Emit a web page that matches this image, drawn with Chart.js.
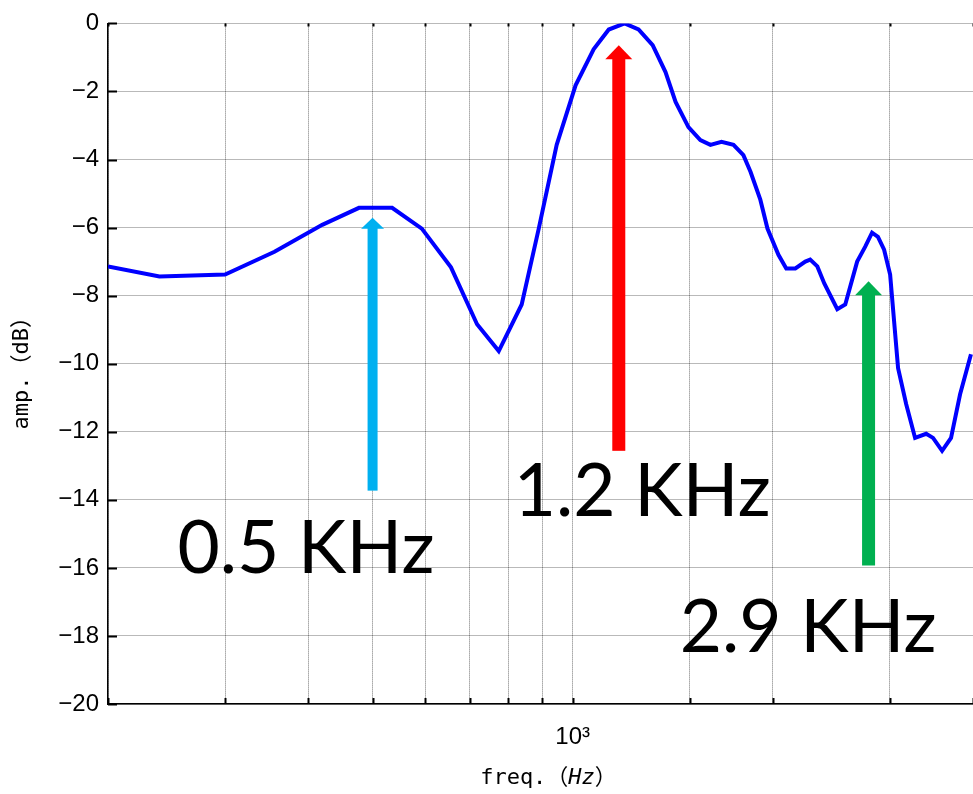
<!DOCTYPE html>
<html>
<head>
<meta charset="utf-8">
<script src="https://cdn.jsdelivr.net/npm/chart.js@4/dist/chart.umd.min.js"></script>
<style>
  body { margin: 0; background: #fff; }
  canvas { display: block; }
</style>
</head>
<body>
<canvas id="c" width="973" height="794"></canvas>
<script>
// frequency (Hz) and amplitude (dB)
var freqs = [200, 239, 300, 356, 420, 477, 535, 593, 656, 718, 774, 838, 889, 946,
  1010, 1075, 1133, 1197, 1256, 1319, 1379, 1428, 1493, 1556, 1611, 1674, 1745, 1806,
  1851, 1915, 1963, 2039, 2095, 2162, 2238, 2276, 2333, 2390, 2500, 2570, 2678, 2754,
  2820, 2878, 2940, 3002, 3086, 3174, 3273, 3401, 3483, 3594, 3707, 3825, 3972];
var amps = [-7.14, -7.44, -7.38, -6.71, -5.92, -5.42, -5.42, -6.03, -7.17, -8.84, -9.63, -8.26, -6.03, -3.57,
  -1.82, -0.76, -0.18, 0, -0.18, -0.64, -1.43, -2.31, -3.05, -3.43, -3.57, -3.48, -3.57, -3.87,
  -4.36, -5.18, -6.03, -6.8, -7.2, -7.2, -7.0, -6.94, -7.14, -7.64, -8.4, -8.26, -7.0, -6.56,
  -6.15, -6.27, -6.65, -7.38, -10.13, -11.19, -12.18, -12.06, -12.18, -12.56, -12.18, -10.9, -9.72];

var yTicks = [0, -2, -4, -6, -8, -10, -12, -14, -16, -18, -20];

// annotation arrows: frequency, start dB, tip dB
var arrowFreqs = [500, 1173, 2786];
var arrowFrom = [-13.73, -12.56, -15.93];
var arrowTo = [-5.71, -0.64, -7.58];
var arrowColors = ['#00B0F0', '#FF0000', '#00B050'];

// annotation labels: text, centre frequency, baseline dB
var labelTexts = ['0.5 KHz', '1.2 KHz', '2.9 KHz'];
var labelFreqs = [397, 1272, 2260];
var labelDb = [-16.16, -14.47, -18.48];

var tickFont = { family: '"Liberation Sans", Arial, sans-serif', size: 24 };

var decor = {
  id: 'decor',
  afterDraw: function (chart) {
    var ctx = chart.ctx, a = chart.chartArea;
    var xs = chart.scales.x, ys = chart.scales.y;
    ctx.save();
    // inward tick marks
    ctx.strokeStyle = '#000';
    ctx.lineWidth = 2;
    ctx.beginPath();
    ys.ticks.forEach(function (t) {
      var y = Math.round(ys.getPixelForValue(t.value)) + 0.5;
      ctx.moveTo(a.left, y);
      ctx.lineTo(a.left + 9, y);
    });
    xs.ticks.forEach(function (t) {
      var x = Math.round(xs.getPixelForValue(t.value)) + 0.5;
      ctx.moveTo(x, a.bottom);
      ctx.lineTo(x, a.bottom - 6);
      ctx.moveTo(x, a.top);
      ctx.lineTo(x, a.top + 3);
    });
    ctx.stroke();

    // arrows
    for (var i = 0; i < arrowFreqs.length; i++) {
      var x = xs.getPixelForValue(arrowFreqs[i]);
      var y0 = ys.getPixelForValue(arrowFrom[i]);
      var y1 = ys.getPixelForValue(arrowTo[i]);
      var shaft = i === 0 ? 10 : 13, head = i === 0 ? 23 : 27, hl = i === 0 ? 11 : 14;
      ctx.fillStyle = arrowColors[i];
      ctx.fillRect(x - shaft / 2, y1 + hl - 1, shaft, y0 - y1 - hl + 1);
      ctx.beginPath();
      ctx.moveTo(x, y1);
      ctx.lineTo(x + head / 2, y1 + hl);
      ctx.lineTo(x - head / 2, y1 + hl);
      ctx.closePath();
      ctx.fill();
    }

    // big labels
    ctx.fillStyle = '#000';
    ctx.font = '73px Lato, "Noto Sans", sans-serif';
    ctx.textAlign = 'center';
    ctx.textBaseline = 'alphabetic';
    for (var j = 0; j < labelTexts.length; j++) {
      ctx.fillText(labelTexts[j], xs.getPixelForValue(labelFreqs[j]), ys.getPixelForValue(labelDb[j]));
    }

    // x axis title with italic unit
    var mono = '"DejaVu Sans Mono", "Liberation Mono", monospace';
    var cjk = '"Noto Sans CJK JP", sans-serif';
    var parts = [['freq.', '22px ' + mono], ['（', '22px ' + cjk],
                 ['Hz', 'italic 22px ' + mono], ['）', '22px ' + cjk]];
    var w = 0;
    parts.forEach(function (p) { ctx.font = p[1]; w += ctx.measureText(p[0]).width; });
    var cx = (a.left + a.right) / 2 - w / 2 + 8;
    ctx.textAlign = 'left';
    parts.forEach(function (p) {
      ctx.font = p[1];
      ctx.fillText(p[0], cx, 784);
      cx += ctx.measureText(p[0]).width;
    });

    // y axis title
    var yparts = [['amp.', '22px ' + mono], ['（', '22px ' + cjk],
                  ['dB', '22px ' + mono], ['）', '22px ' + cjk]];
    w = 0;
    yparts.forEach(function (p) { ctx.font = p[1]; w += ctx.measureText(p[0]).width; });
    ctx.translate(28, (a.top + a.bottom) / 2 + 4);
    ctx.rotate(-Math.PI / 2);
    var cy = -w / 2;
    yparts.forEach(function (p) {
      ctx.font = p[1];
      ctx.fillText(p[0], cy, 0);
      cy += ctx.measureText(p[0]).width;
    });
    ctx.restore();
  }
};

new Chart(document.getElementById('c'), {
  type: 'line',
  data: {
    datasets: [{
      data: freqs.map(function (f, i) { return { x: f, y: amps[i] }; }),
      borderColor: '#0000FF',
      borderWidth: 4,
      pointRadius: 0,
      tension: 0,
      fill: false
    }]
  },
  options: {
    responsive: false,
    animation: false,
    layout: { padding: { top: 21, right: 0, left: 0, bottom: 0 } },
    plugins: { legend: { display: false }, tooltip: { enabled: false } },
    scales: {
      x: {
        type: 'logarithmic',
        min: 200,
        max: 4000,
        afterFit: function (s) { s.height = 90; s.paddingLeft = 0; s.paddingRight = 0; },
        grid: { color: 'rgba(0,0,0,0.55)', lineWidth: 1, drawTicks: false },
        border: { display: true, color: '#000', width: 1.5, dash: [1, 1] },
        ticks: {
          autoSkip: false,
          maxRotation: 0,
          padding: 19,
          color: '#000',
          font: tickFont,
          callback: function (v) { return v === 1000 ? '10³' : ''; }
        }
      },
      y: {
        min: -20,
        max: 0,
        afterFit: function (s) { s.width = 108; },
        afterBuildTicks: function (s) { s.ticks = yTicks.map(function (v) { return { value: v }; }); },
        grid: { color: 'rgba(0,0,0,0.55)', lineWidth: 1, drawTicks: false },
        border: { display: true, color: '#000', width: 1.5, dash: [1, 1] },
        ticks: {
          padding: 9,
          color: '#000',
          font: tickFont,
          callback: function (v) { return v === 0 ? '0' : '\u2212' + Math.abs(v); }
        }
      }
    }
  },
  plugins: [decor]
});
</script>
</body>
</html>
